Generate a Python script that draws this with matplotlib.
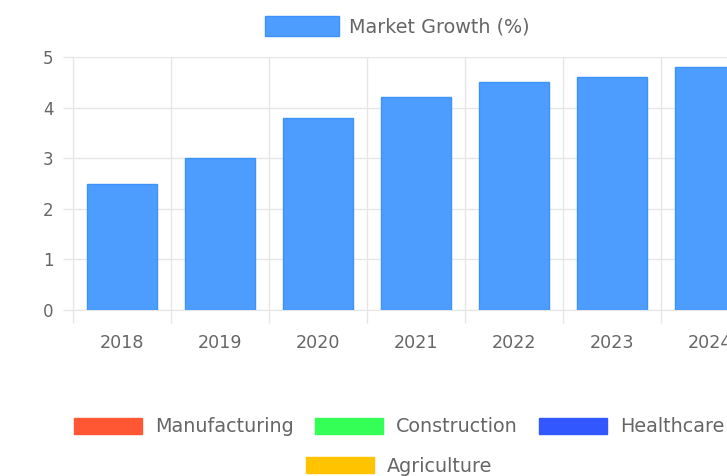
import matplotlib.pyplot as plt
from matplotlib.patches import Patch

plt.rcParams['font.family'] = ['DejaVu Sans']

years = ['2018', '2019', '2020', '2021', '2022', '2023', '2024']
growth = [2.5, 3.0, 3.8, 4.2, 4.5, 4.6, 4.8]
sectors = ['Manufacturing', 'Construction', 'Healthcare', 'Agriculture']
sector_colors = ['#ff5733', '#33ff57', '#3357ff', '#ffc300']

grid_c = '#e6e6e6'
txt_c = '#666666'
fs_tick = 12.6
fs_leg = 13.8
px = fs_leg * 100 / 72  # legend font size in pixels

fig = plt.figure(figsize=(7.27, 4.76), dpi=100)
# plot area runs past the right edge, as in the cropped reference
ax = fig.add_axes([73 / 727, 1 - 310 / 476, 686 / 727, 253 / 476])

x = list(range(len(years)))
ax.bar(x, growth, width=0.72, color='#4c9dff', edgecolor='#3d93fb', linewidth=1, zorder=3)

ax.set_xlim(-0.5, len(years) - 0.5)
ax.set_ylim(0, 5)
ax.set_yticks(range(6))
ax.set_xticks(x)
ax.set_xticklabels(years)
ax.set_xticks([i - 0.5 for i in range(len(years) + 1)], minor=True)

ax.grid(axis='y', color=grid_c, linewidth=1, zorder=0)
ax.grid(axis='x', which='minor', color=grid_c, linewidth=1, zorder=0)
ax.tick_params(axis='x', which='major', length=0, pad=17, labelsize=fs_tick, labelcolor=txt_c)
ax.tick_params(axis='x', which='minor', length=9, color=grid_c, width=1)
ax.tick_params(axis='y', length=7, color=grid_c, width=1, pad=7, labelsize=12, labelcolor=txt_c)
for s in ['top', 'right']:
    ax.spines[s].set_visible(False)
for s in ['left', 'bottom']:
    ax.spines[s].set_color(grid_c)

top = [Patch(facecolor='#4c9dff', edgecolor='#3d93fb', label='Market Growth (%)')]
fig.legend(handles=top, loc='center', bbox_to_anchor=(0.547, 0.945), frameon=False,
           fontsize=fs_leg, labelcolor=txt_c, handlelength=74 / px, handleheight=23 / px,
           handletextpad=10 / px, borderpad=0)

leg_kw = dict(frameon=False, fontsize=fs_leg, labelcolor=txt_c, handlelength=68 / px,
              handleheight=18 / px, handletextpad=13 / px, columnspacing=21 / px, borderpad=0)
handles = [Patch(facecolor=c, edgecolor=c, label=s) for s, c in zip(sectors, sector_colors)]
fig.legend(handles=handles[:3], loc='center', ncol=3, bbox_to_anchor=(0.549, 0.103), **leg_kw)
fig.legend(handles=handles[3:], loc='center', bbox_to_anchor=(0.549, 0.021), **leg_kw)

fig.savefig('out.png', dpi=100)
